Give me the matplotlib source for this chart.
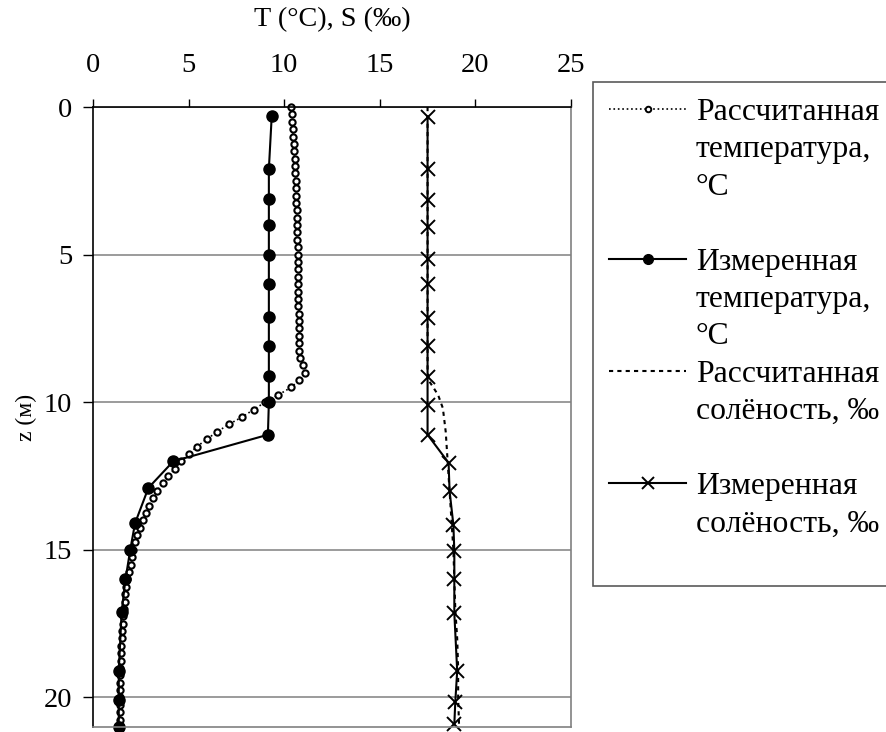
import numpy as np
import matplotlib
matplotlib.use("Agg")
import matplotlib.pyplot as plt
from matplotlib.lines import Line2D

plt.rcParams['font.family'] = ['Liberation Serif', 'DejaVu Serif']

# calculated temperature, model levels every 0.25 m
z_calc = [0.0, 0.25, 0.5, 0.75, 1.0, 1.25, 1.5, 1.75, 2.0, 2.25, 2.5, 2.75,
          3.0, 3.25, 3.5, 3.75, 4.0, 4.25, 4.5, 4.75, 5.0, 5.25, 5.5, 5.75,
          6.0, 6.25, 6.5, 6.75, 7.0, 7.25, 7.5, 7.75, 8.0, 8.25, 8.5, 8.75,
          9.0, 9.25, 9.5, 9.75, 10.0, 10.25, 10.5, 10.75, 11.0, 11.25, 11.5, 11.75,
          12.0, 12.25, 12.5, 12.75, 13.0, 13.25, 13.5, 13.75, 14.0, 14.25, 14.5, 14.75,
          15.0, 15.25, 15.5, 15.75, 16.0, 16.25, 16.5, 16.75, 17.0, 17.25, 17.5, 17.75,
          18.0, 18.25, 18.5, 18.75, 19.0, 19.25, 19.5, 19.75, 20.0, 20.25, 20.5, 20.75, 21.0]
t_calc = [10.35, 10.4, 10.4, 10.45, 10.45, 10.5, 10.5, 10.55, 10.55, 10.55, 10.6, 10.6,
          10.6, 10.6, 10.65, 10.65, 10.65, 10.65, 10.65, 10.7, 10.7, 10.7, 10.7, 10.7,
          10.75, 10.75, 10.75, 10.75, 10.8, 10.8, 10.8, 10.8, 10.8, 10.8, 10.85, 11.0,
          11.1, 10.8, 10.35, 9.7, 9.0, 8.4, 7.8, 7.1, 6.5, 5.95, 5.45, 5.0,
          4.6, 4.3, 3.9, 3.65, 3.35, 3.15, 2.95, 2.8, 2.6, 2.45, 2.3, 2.2,
          2.1, 2.05, 2.0, 1.9, 1.8, 1.75, 1.7, 1.65, 1.6, 1.55, 1.55, 1.5,
          1.5, 1.45, 1.45, 1.45, 1.4, 1.4, 1.4, 1.4, 1.4, 1.4, 1.4, 1.4, 1.4]

# measured temperature
z_tmeas = [0.3, 2.1, 3.1, 4.0, 5.0, 6.0, 7.1, 8.1, 9.1, 10.0, 11.1, 12.0, 12.9,
           14.1, 15.0, 16.0, 17.1, 19.1, 20.1, 21.0]
t_meas = [9.35, 9.2, 9.2, 9.2, 9.2, 9.2, 9.2, 9.2, 9.2, 9.2, 9.15, 4.2, 2.9,
          2.2, 1.95, 1.7, 1.5, 1.35, 1.35, 1.35]

# calculated salinity
z_scalc = [0.0, 1.0, 2.0, 3.0, 4.0, 5.0, 6.0, 7.0, 8.0, 9.0, 9.3, 9.75, 10.2,
           11.0, 12.0, 13.0, 14.0, 15.0, 16.0, 17.0, 18.0, 19.0, 20.0, 21.0]
s_calc = [17.5, 17.5, 17.5, 17.5, 17.5, 17.5, 17.5, 17.5, 17.5, 17.5, 17.6, 18.05, 18.3,
          18.45, 18.55, 18.65, 18.75, 18.85, 18.9, 18.95, 19.05, 19.1, 19.1, 19.15]

# measured salinity
z_smeas = [0.35, 2.1, 3.15, 4.05, 5.15, 6.0, 7.15, 8.1, 9.15, 10.1, 11.1, 12.05, 13.0,
           14.15, 15.05, 16.0, 17.15, 19.1, 20.15, 20.9]
s_meas = [17.5, 17.5, 17.5, 17.5, 17.5, 17.5, 17.5, 17.5, 17.5, 17.5, 17.5, 18.6, 18.65,
          18.85, 18.9, 18.9, 18.9, 19.05, 18.95, 18.9]

fig = plt.figure(figsize=(8.87, 7.32), dpi=100)
ax = fig.add_axes([0.1048, 0.0068, 0.5389, 0.847])

ax.plot(t_calc, z_calc, linestyle=':', color='black', lw=1.2, marker='o',
        ms=4.5, mfc='white', mec='black', mew=1.5, clip_on=False)
ax.plot(t_meas, z_tmeas, '-', color='black', lw=1.5, marker='o', ms=8,
        mfc='black', mec='black', clip_on=False)
ax.plot(s_calc, z_scalc, linestyle=(0, (2, 2)), color='black', lw=1.5)
ax.plot(s_meas, z_smeas, '-', color='black', lw=1.5, marker='x', ms=10,
        mew=1.4, clip_on=False)

ax.set_xlim(0, 25)
ax.set_ylim(21, 0)
ax.set_xticks([0, 5, 10, 15, 20, 25])
ax.set_yticks([0, 5, 10, 15, 20])
ax.xaxis.tick_top()
ax.xaxis.set_label_position('top')
ax.tick_params(axis='x', direction='out', length=6, width=1, pad=15, labelsize=20.5)
ax.tick_params(axis='y', direction='out', length=7, width=1, pad=8, labelsize=20.5)
ax.grid(axis='y', color='#808080', lw=1.1)
ax.set_axisbelow(True)
ax.set_xlabel('T (°C), S (‰)', fontsize=20.3, labelpad=19)
ax.set_ylabel('z (м)', fontsize=17, labelpad=5)
for side in ['left', 'top']:
    ax.spines[side].set_color('black')
    ax.spines[side].set_linewidth(1.2)
for side in ['right', 'bottom']:
    ax.spines[side].set_color('#808080')
    ax.spines[side].set_linewidth(1.2)

# legend built row by row so that the key sits on the first text line
blank = Line2D([], [], linestyle='none')
handles = [
    Line2D([], [], linestyle=':', color='black', lw=1.2, marker='o', ms=4,
           mfc='white', mec='black', mew=1.4),
    blank, blank, blank,
    Line2D([], [], linestyle='-', color='black', lw=1.5, marker='o', ms=7,
           mfc='black', mec='black'),
    blank, blank,
    Line2D([], [], linestyle=(0, (2, 2)), color='black', lw=1.5),
    blank, blank,
    Line2D([], [], linestyle='-', color='black', lw=1.5, marker='x', ms=8, mew=1.4),
    blank, blank,
]
labels = ['Рассчитанная', 'температура,', '°C', ' ',
          'Измеренная', 'температура,', '°C',
          'Рассчитанная', 'солёность, ‰', ' ',
          'Измеренная', 'солёность, ‰', ' ']
leg = fig.legend(handles, labels, loc='upper left',
                 bbox_to_anchor=(593 / 887, 1 - 82 / 732), fontsize=22.8,
                 frameon=True, fancybox=False, edgecolor='#303030',
                 handlelength=2.45, handletextpad=0.3, borderpad=0.5,
                 labelspacing=0.26, borderaxespad=0)
leg.get_frame().set_linewidth(1.2)
leg.get_texts()[-1].set_fontsize(5)

fig.savefig('out.png', dpi=100)
